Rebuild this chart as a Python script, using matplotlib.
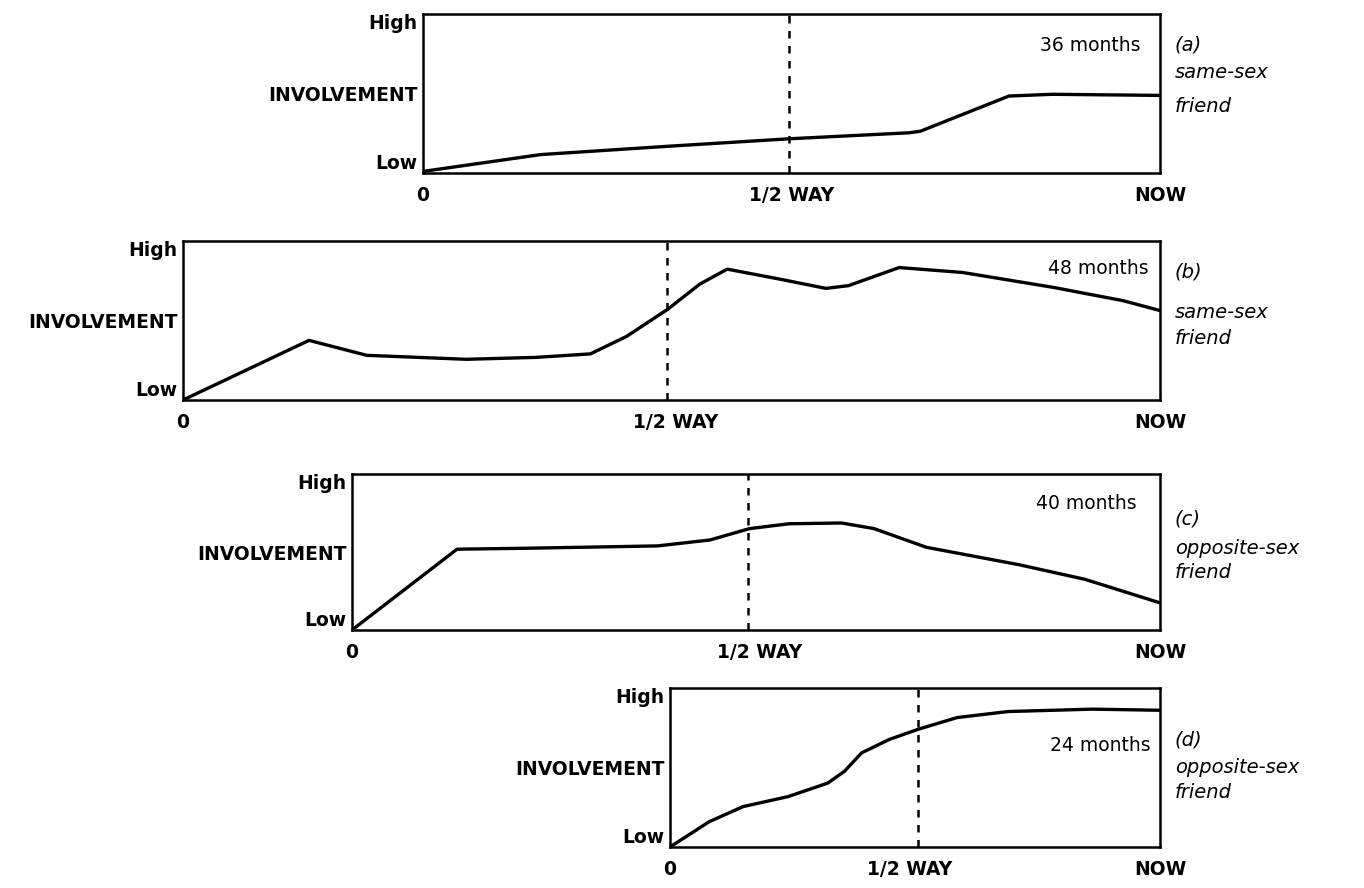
import matplotlib
matplotlib.use("Agg")
import matplotlib.pyplot as plt

# involvement curves, x = fraction of relationship time (0 .. NOW), y = Low(0) .. High(1)
a_x = [0, 0.16, 0.332, 0.496, 0.66, 0.675, 0.795, 0.854, 1.0]
a_y = [0.01, 0.116, 0.168, 0.215, 0.253, 0.263, 0.484, 0.495, 0.488]

b_x = [0, 0.129, 0.188, 0.29, 0.361, 0.417, 0.454, 0.496, 0.529, 0.557, 0.611,
       0.658, 0.681, 0.733, 0.798, 0.891, 0.962, 1.0]
b_y = [0.0, 0.375, 0.281, 0.256, 0.268, 0.29, 0.40, 0.57, 0.729, 0.823, 0.76,
       0.702, 0.719, 0.833, 0.802, 0.708, 0.625, 0.5625]

c_x = [0, 0.13, 0.215, 0.378, 0.443, 0.492, 0.541, 0.606, 0.646, 0.711, 0.825, 0.907, 1.0]
c_y = [0.0, 0.518, 0.524, 0.539, 0.577, 0.65, 0.681, 0.686, 0.65, 0.53, 0.419, 0.325, 0.174]

d_x = [0, 0.08, 0.149, 0.241, 0.322, 0.356, 0.391, 0.448, 0.506, 0.586, 0.69, 0.862, 1.0]
d_y = [0.0, 0.159, 0.254, 0.317, 0.402, 0.476, 0.592, 0.677, 0.74, 0.814, 0.852, 0.867, 0.86]

half_way = [0.496, 0.495, 0.49, 0.506]   # dashed "1/2 WAY" marker
durations = ["36 months", "48 months", "40 months", "24 months"]
tags = ["(a)", "(b)", "(c)", "(d)"]
kinds = [("same-sex", "friend"), ("same-sex", "friend"),
         ("opposite-sex", "friend"), ("opposite-sex", "friend")]
curves = [(a_x, a_y), (b_x, b_y), (c_x, c_y), (d_x, d_y)]

W, H = 1364, 888
# panel boxes in pixels: left, right, top, bottom
boxes = [(423, 1160, 14, 173), (183, 1160, 241, 400), (352, 1160, 474, 630), (670, 1160, 688, 847)]
dur_pos = [(0.973, 0.80), (0.988, 0.83), (0.971, 0.81), (0.98, 0.64)]
half_lab = [0.5, 0.504, 0.505, 0.49]
# caption line offsets below box top (px): tag, first word, second word
cap_off = [(31, 59, 93), (31, 71, 97), (45, 75, 98), (52, 79, 104)]

plt.rcParams["font.family"] = ["DejaVu Sans"]
fig = plt.figure(figsize=(W / 100, H / 100), dpi=100)

for i, (l, r, t, b) in enumerate(boxes):
    ax = fig.add_axes([l / W, 1 - b / H, (r - l) / W, (b - t) / H])
    x, y = curves[i]
    ax.plot(x, y, color="black", lw=2.4, solid_joinstyle="round", solid_capstyle="round")
    ax.axvline(half_way[i], color="black", lw=1.8, ls=(0, (3, 3)))
    ax.set_xlim(0, 1)
    ax.set_ylim(0, 1)
    for s in ax.spines.values():
        s.set_linewidth(1.8)
    ax.set_yticks([0, 0.5, 1])
    ax.set_yticklabels(["Low", "INVOLVEMENT", "High"], fontsize=13.5, fontweight="bold")
    ax.set_xticks([0, half_lab[i], 1])
    ax.set_xticklabels(["0", "1/2 WAY", "NOW"], fontsize=13.5, fontweight="bold")
    ax.tick_params(axis="y", length=0, pad=4)
    ax.tick_params(axis="x", length=0, pad=9)
    ax.get_yticklabels()[0].set_va("bottom")
    ax.get_yticklabels()[2].set_va("top")
    dx, dy = dur_pos[i]
    ax.text(dx, dy, durations[i], transform=ax.transAxes, ha="right", va="center", fontsize=13.5)
    # side caption
    xr = 1175 / W
    o1, o2, o3 = cap_off[i]
    fig.text(xr, 1 - (t + o1) / H, tags[i], style="italic", fontsize=14, ha="left", va="center")
    fig.text(xr, 1 - (t + o2) / H, kinds[i][0], style="italic", fontsize=14, ha="left", va="center")
    fig.text(xr, 1 - (t + o3) / H, kinds[i][1], style="italic", fontsize=14, ha="left", va="center")

fig.savefig("out.png", dpi=100, facecolor="white")
